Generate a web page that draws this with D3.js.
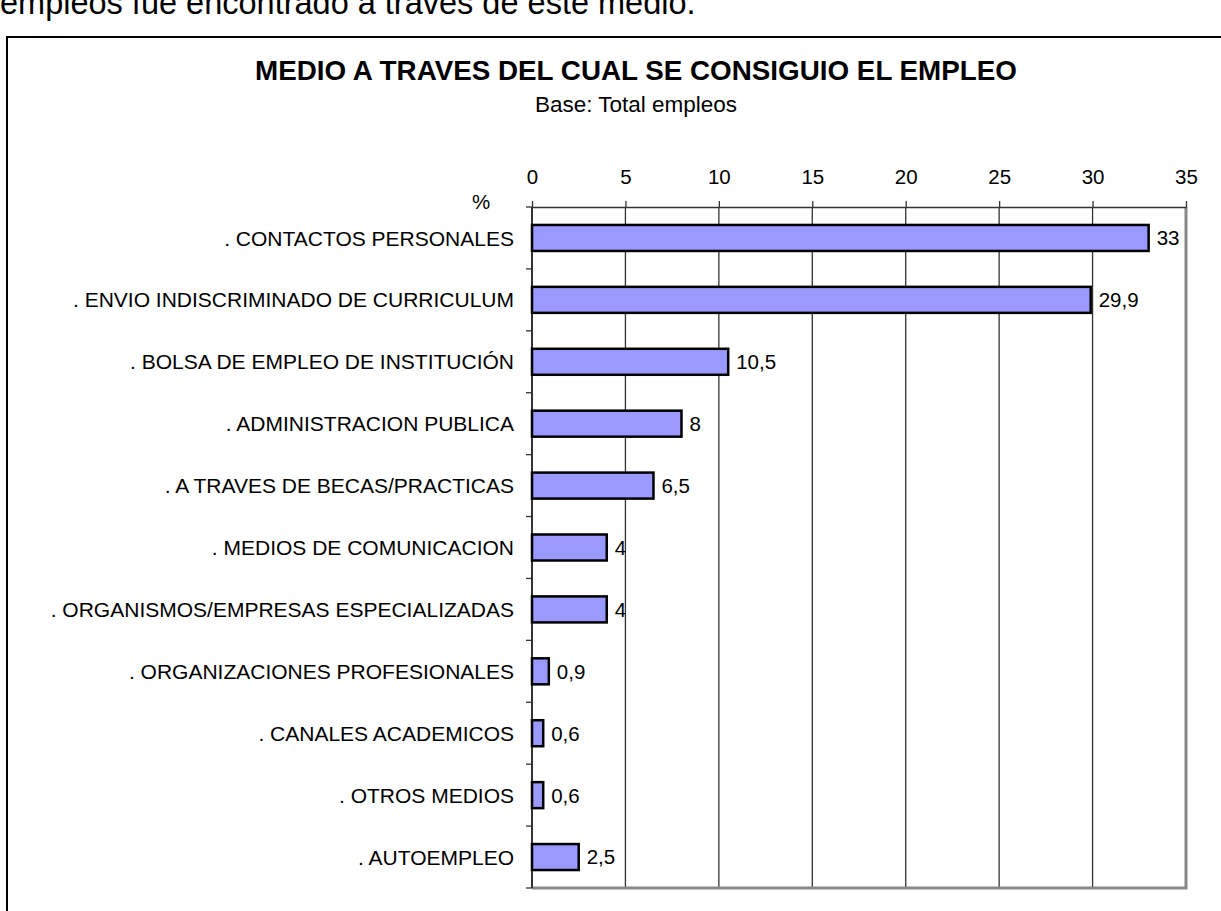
<!DOCTYPE html>
<html>
<head>
<meta charset="utf-8">
<script src="https://cdn.jsdelivr.net/npm/d3@7"></script>
<style>
	body { margin: 0; background: #fff; }
	text { font-family: "Liberation Sans", Arial, sans-serif; fill: #000; }
</style>
</head>
<body>
<script>
// categories and values
const categories = [
	". CONTACTOS PERSONALES",
	". ENVIO INDISCRIMINADO DE CURRICULUM",
	". BOLSA DE EMPLEO DE INSTITUCIÓN",
	". ADMINISTRACION PUBLICA",
	". A TRAVES DE BECAS/PRACTICAS",
	". MEDIOS DE COMUNICACION",
	". ORGANISMOS/EMPRESAS ESPECIALIZADAS",
	". ORGANIZACIONES PROFESIONALES",
	". CANALES ACADEMICOS",
	". OTROS MEDIOS",
	". AUTOEMPLEO"
];
const values = [33, 29.9, 10.5, 8, 6.5, 4, 4, 0.9, 0.6, 0.6, 2.5];
const xTicks = [0, 5, 10, 15, 20, 25, 30, 35];

const title = "MEDIO A TRAVES DEL CUAL SE CONSIGUIO EL EMPLEO";
const subtitle = "Base: Total empleos";
const headText = "empleos fue encontrado a través de este medio.";

const size_graph = {x: 1221, y: 911},
		plot = {left: 532, right: 1186, top: 207, bottom: 888};

const data = categories.map((c, i) => ({cat: c, val: values[i]}));

const svg = d3.select("body").append("svg")
	.attr("width", size_graph.x)
	.attr("height", size_graph.y);

// text cut at the top of the page (it continues from the previous page)
svg.append("text")
	.attr("x", 0)
	.attr("y", 14)
	.style("font-size", "32.5px")
	.text(headText);

// outer frame, runs off the page on the right and bottom
svg.append("rect")
	.attr("x", 7).attr("y", 37)
	.attr("width", 1300).attr("height", 1000)
	.attr("fill", "none")
	.attr("stroke", "#000")
	.attr("stroke-width", 2);

svg.append("text")
	.attr("x", 636).attr("y", 80)
	.attr("text-anchor", "middle")
	.style("font-size", "27.8px")
	.style("font-weight", "bold")
	.text(title);

svg.append("text")
	.attr("x", 636).attr("y", 112)
	.attr("text-anchor", "middle")
	.style("font-size", "22.5px")
	.text(subtitle);

const x = d3.scaleLinear().domain([0, 35]).range([plot.left, plot.right]);
const y = d3.scaleBand().domain(categories).range([plot.top, plot.bottom])
	.paddingInner(0.58).paddingOuter(0.29);

// vertical gridlines
svg.append("g")
	.selectAll("line")
	.data(xTicks.filter(d => d > 0 && d < 35))
	.enter().append("line")
	.attr("x1", d => x(d)).attr("x2", d => x(d))
	.attr("y1", plot.top).attr("y2", plot.bottom)
	.attr("stroke", "#333")
	.attr("stroke-width", 1.3);

// gray right / bottom border of the plot
svg.append("path")
	.attr("d", `M${x(35)},${plot.top}V${plot.bottom}H${x(0)}`)
	.attr("fill", "none")
	.attr("stroke", "#888")
	.attr("stroke-width", 3);

// top axis
const xAxis = d3.axisTop(x).tickValues(xTicks).tickSize(6).tickSizeOuter(0);
const gx = svg.append("g")
	.attr("transform", `translate(0,${plot.top})`)
	.call(xAxis);
gx.select(".domain").attr("stroke", "#333").attr("stroke-width", 1.5);
gx.selectAll(".tick line").attr("stroke", "#333").attr("stroke-width", 1.3);
gx.selectAll(".tick text")
	.attr("y", -23)
	.style("font-size", "20.5px")
	.style("font-family", "'Liberation Sans', Arial, sans-serif")
	.attr("fill", "#000");

// left axis with ticks between categories
const bounds = d3.range(categories.length + 1).map(i => plot.top + i * y.step());
const gy = svg.append("g");
gy.append("line")
	.attr("x1", x(0)).attr("x2", x(0))
	.attr("y1", plot.top).attr("y2", plot.bottom)
	.attr("stroke", "#333").attr("stroke-width", 2);
gy.selectAll(".yt")
	.data(bounds)
	.enter().append("line")
	.attr("class", "yt")
	.attr("x1", x(0) - 6).attr("x2", x(0))
	.attr("y1", d => d).attr("y2", d => d)
	.attr("stroke", "#333").attr("stroke-width", 1.3);

svg.append("text")
	.attr("x", 481).attr("y", 209)
	.attr("text-anchor", "middle")
	.style("font-size", "20.5px")
	.text("%");

// category labels
svg.append("g")
	.selectAll("text")
	.data(data)
	.enter().append("text")
	.attr("x", 514)
	.attr("y", d => y(d.cat) + y.bandwidth() / 2)
	.attr("dy", "0.36em")
	.attr("text-anchor", "end")
	.style("font-size", "21px")
	.text(d => d.cat);

// bars
svg.append("g")
	.selectAll("rect")
	.data(data)
	.enter().append("rect")
	.attr("x", x(0))
	.attr("y", d => y(d.cat))
	.attr("width", d => x(d.val) - x(0))
	.attr("height", y.bandwidth())
	.attr("fill", "#9999ff")
	.attr("stroke", "#000")
	.attr("stroke-width", 2.5);

// value labels, comma decimal
const fmt = v => String(v).replace(".", ",");
svg.append("g")
	.selectAll("text")
	.data(data)
	.enter().append("text")
	.attr("x", d => x(d.val) + 8)
	.attr("y", d => y(d.cat) + y.bandwidth() / 2)
	.attr("dy", "0.36em")
	.style("font-size", "20.5px")
	.text(d => fmt(d.val));
</script>
</body>
</html>
